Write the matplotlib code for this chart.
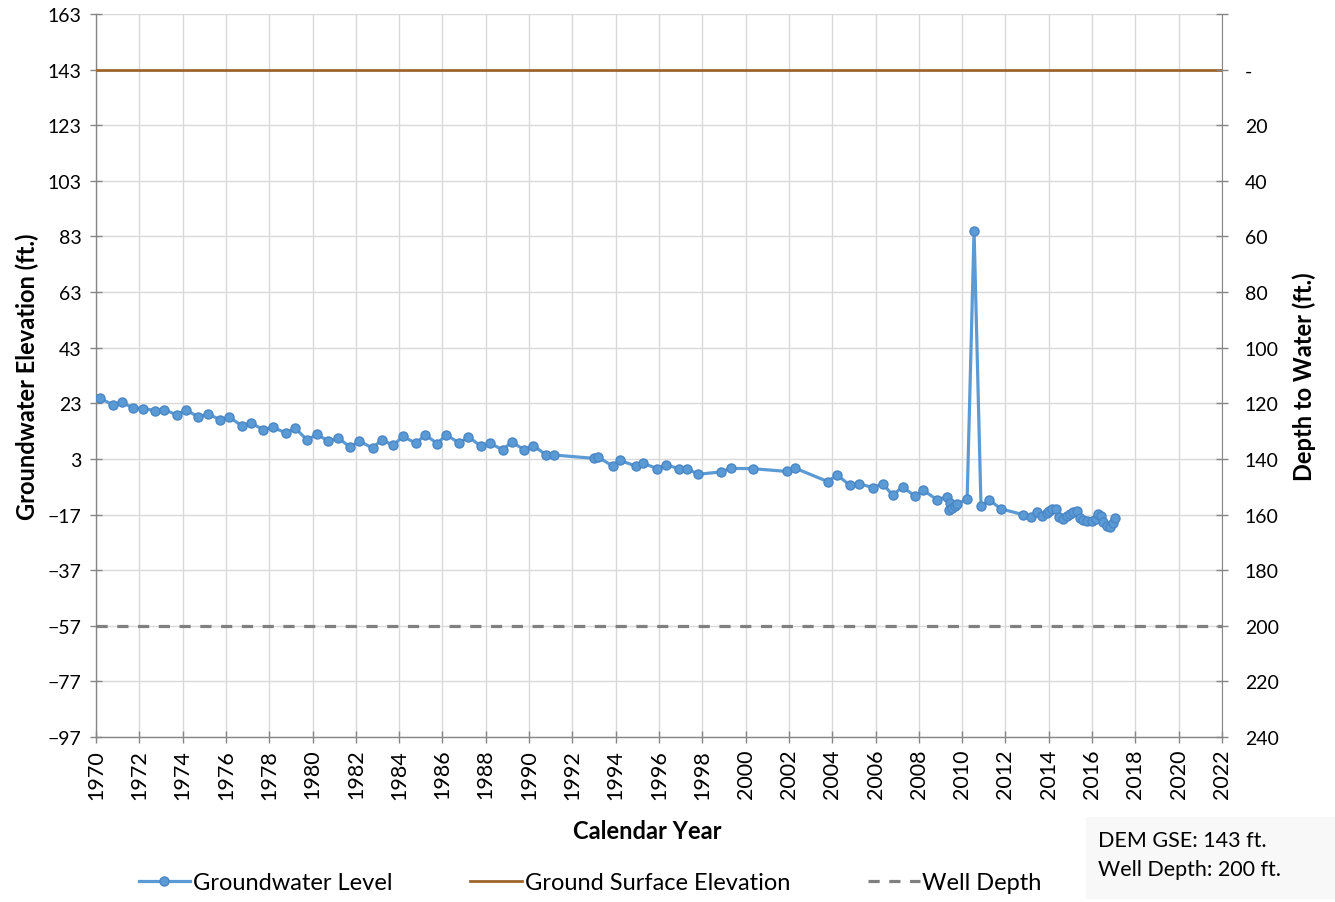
import matplotlib
matplotlib.use("Agg")
import matplotlib.pyplot as plt
from matplotlib.lines import Line2D
from matplotlib.patches import Rectangle

plt.rcParams['font.family'] = ['Lato', 'DejaVu Sans']

# Groundwater level measurements (decimal year, elevation in ft)
years = [
    1970.18, 1970.77, 1971.19, 1971.72, 1972.16, 1972.74, 1973.16, 1973.74,
    1974.16, 1974.73, 1975.16, 1975.73, 1976.16, 1976.74, 1977.16, 1977.73,
    1978.16, 1978.78, 1979.21, 1979.76, 1980.19, 1980.73, 1981.19, 1981.73,
    1982.16, 1982.78, 1983.19, 1983.73, 1984.17, 1984.78, 1985.20, 1985.76,
    1986.17, 1986.78, 1987.20, 1987.78, 1988.20, 1988.78, 1989.20, 1989.77,
    1990.20, 1990.79, 1991.17,
    1993.00, 1993.20, 1993.87, 1994.20, 1994.93, 1995.28, 1995.93, 1996.31,
    1996.93, 1997.28, 1997.82, 1998.85, 1999.31, 2000.33, 2001.90, 2002.28,
    2003.81, 2004.21, 2004.82, 2005.25, 2005.90, 2006.33, 2006.79, 2007.25,
    2007.83, 2008.21, 2008.83, 2009.30, 2009.38, 2009.46, 2009.55, 2009.65,
    2009.78, 2010.23, 2010.55, 2010.87, 2011.26, 2011.80, 2012.80, 2013.20,
    2013.47, 2013.67, 2013.90, 2014.02, 2014.15, 2014.33, 2014.49, 2014.67,
    2014.83, 2014.98, 2015.13, 2015.29, 2015.44, 2015.59, 2015.78, 2015.98,
    2016.18, 2016.29, 2016.40, 2016.52, 2016.67, 2016.83, 2016.95, 2017.04,
]
levels = [
    24.8, 22.5, 23.4, 21.3, 21.1, 20.4, 20.7, 18.8,
    20.7, 18.0, 19.2, 17.1, 18.0, 14.9, 15.9, 13.5,
    14.4, 12.3, 14.0, 9.7, 11.9, 9.4, 10.5, 7.3,
    9.4, 6.9, 9.9, 7.9, 11.1, 8.6, 11.7, 8.5,
    11.7, 8.7, 11.0, 7.5, 8.6, 6.3, 9.1, 6.3,
    7.8, 4.4, 4.4,
    3.2, 3.6, 0.4, 2.5, 0.4, 1.4, -0.5, 0.9,
    -0.5, -0.5, -2.5, -1.7, -0.4, -0.5, -1.5, -0.3,
    -5.2, -2.7, -6.5, -6.0, -7.3, -5.9, -10.0, -7.1,
    -10.4, -8.3, -11.6, -10.7, -15.2, -12.8, -14.6, -14.0,
    -13.3, -11.3, 85.1, -13.9, -11.8, -15.0, -17.0, -18.0,
    -16.2, -17.4, -16.3, -15.6, -15.1, -15.0, -17.8, -18.6,
    -17.5, -16.8, -16.2, -15.6, -18.2, -19.0, -19.4, -19.2,
    -18.6, -16.8, -17.4, -19.8, -21.0, -21.4, -20.2, -18.2,
]

ground_surface = 143
well_depth = 200
well_bottom = ground_surface - well_depth

x_min, x_max = 1970, 2022
y_min, y_max = -97, 163
x_ticks = list(range(1970, 2023, 2))
y_ticks = list(range(-97, 164, 20))
depth_labels = ['-' if ground_surface - t == 0 else str(ground_surface - t)
                for t in y_ticks]

W, H = 1335, 903
fig = plt.figure(figsize=(W / 100, H / 100), dpi=100)
ax = fig.add_axes([96 / W, 1 - 738 / H, (1222 - 96) / W, (738 - 15) / H])

gw_color = '#5B9BD5'
ax.plot(years, levels, color=gw_color, lw=2.3, marker='o', ms=6.5,
        mfc=gw_color, mec='#4A86C5', mew=1.0, zorder=4)
ax.axhline(ground_surface, color='#A0652D', lw=2.0, zorder=3)
ax.axhline(well_bottom, color='#808080', lw=2.3, ls=(0, (3.5, 3)), zorder=3)

ax.set_xlim(x_min, x_max)
ax.set_ylim(y_min, y_max)
ax.set_xticks(x_ticks)
ax.set_xticklabels([str(t) for t in x_ticks], rotation=90)
ax.set_yticks(y_ticks)
ax.grid(True, color='#D9D9D9', lw=1.0, zorder=0)
ax.set_axisbelow(True)
for side in ('top', 'right'):
    ax.spines[side].set_visible(False)
for side in ('left', 'bottom'):
    ax.spines[side].set_color('#868686')
    ax.spines[side].set_linewidth(1.0)
ax.tick_params(axis='both', direction='inout', length=9, width=1.0,
               color='#868686', labelcolor='black')
ax.tick_params(axis='y', pad=6, labelsize=14)
ax.tick_params(axis='x', pad=4, labelsize=15.5)

ax2 = ax.twinx()
ax2.set_ylim(y_min, y_max)
ax2.set_yticks(y_ticks)
ax2.set_yticklabels(depth_labels)
ax2.yaxis.get_major_ticks()[-1].label2.set_visible(False)
for side in ('top', 'left', 'bottom'):
    ax2.spines[side].set_visible(False)
ax2.spines['right'].set_color('#868686')
ax2.tick_params(axis='y', direction='inout', length=9, width=1.0,
                color='#868686', labelsize=14, pad=12)

ax.set_xlabel('Calendar Year', fontsize=17, fontweight='bold', labelpad=15)
ax.xaxis.set_label_coords(0.490, -0.113)
ax.set_ylabel('Groundwater Elevation (ft.)', fontsize=17, fontweight='bold',
              labelpad=6)
ax2.set_ylabel('Depth to Water (ft.)', fontsize=17, fontweight='bold',
               labelpad=10)

handles = [
    Line2D([], [], color=gw_color, lw=2.3, marker='o', ms=6.5, mfc=gw_color,
           mec='#4A86C5'),
    Line2D([], [], color='#A0652D', lw=2.0),
    Line2D([], [], color='#808080', lw=2.3, ls=(0, (3.5, 3))),
]
fig.legend(handles, ['Groundwater Level', 'Ground Surface Elevation', 'Well Depth'],
           loc='center', bbox_to_anchor=(590 / W, 1 - 884 / H), ncol=3,
           frameon=False, fontsize=17, handlelength=2.2, handletextpad=0.1,
           columnspacing=3.3)

fig.patches.append(Rectangle((1086 / W, 1 - 900 / H), (1335 - 1086) / W,
                             (900 - 818) / H, transform=fig.transFigure,
                             facecolor='#F8F8F8', edgecolor='none', zorder=0))
fig.text(1098 / W, 1 - 841 / H, 'DEM GSE: 143 ft.', fontsize=15.5, va='center')
fig.text(1098 / W, 1 - 870 / H, 'Well Depth: 200 ft.', fontsize=15.5, va='center')

fig.savefig('out.png', dpi=100)
